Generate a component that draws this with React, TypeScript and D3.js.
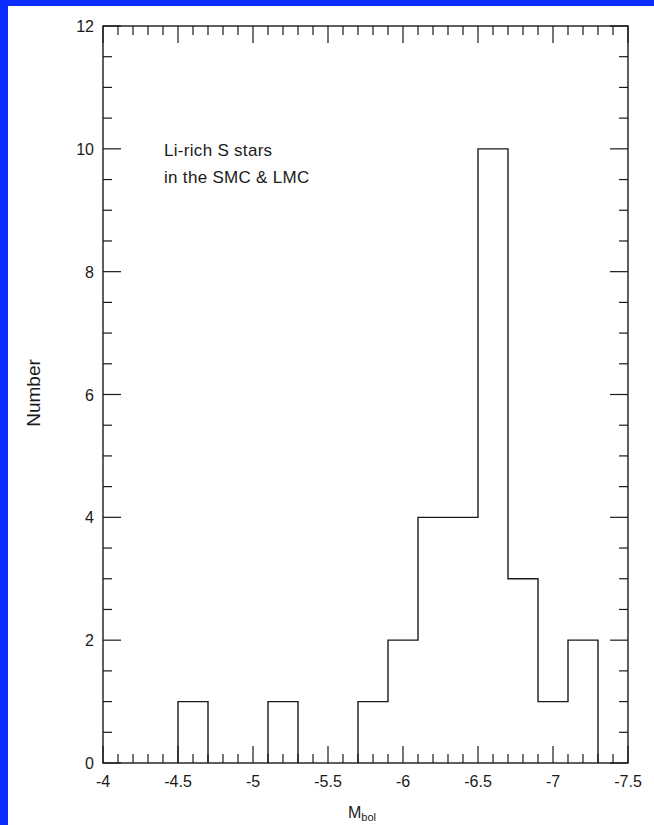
import React from "react";
import * as d3 from "d3";

// Histogram of Mbol for Li-rich S stars (bin width 0.2, edges starting at -4.5)
const binStarts = [-4.5, -4.7, -4.9, -5.1, -5.3, -5.5, -5.7, -5.9, -6.1, -6.3, -6.5, -6.7, -6.9, -7.1];
const counts = [1, 0, 0, 1, 0, 0, 1, 2, 4, 4, 10, 3, 1, 2];
const binWidth = 0.2;
const xTickLabels = [-4, -4.5, -5, -5.5, -6, -6.5, -7, -7.5];
const yTickLabels = [0, 2, 4, 6, 8, 10, 12];
const annotation = ["Li-rich S stars", "in the SMC & LMC"];

const W = 654;
const H = 825;
const FONT = "'Liberation Sans', Arial, Helvetica, sans-serif";
const INK = "#1a1a1a";

export default function App() {
  const left = 103, right = 628, top = 26, bottom = 763;
  const x = d3.scaleLinear().domain([-4, -7.5]).range([left, right]);
  const y = d3.scaleLinear().domain([0, 12]).range([bottom, top]);

  // build outline segments: contiguous runs of non-zero bins
  const runs: { s: number; c: number }[][] = [];
  let cur: { s: number; c: number }[] = [];
  binStarts.forEach((s, i) => {
    if (counts[i] > 0) cur.push({ s, c: counts[i] });
    else if (cur.length) { runs.push(cur); cur = []; }
  });
  if (cur.length) runs.push(cur);

  const paths = runs.map((run) => {
    const pts: [number, number][] = [];
    pts.push([x(run[0].s), y(0)]);
    run.forEach((b) => {
      pts.push([x(b.s), y(b.c)]);
      pts.push([x(b.s - binWidth), y(b.c)]);
    });
    pts.push([x(run[run.length - 1].s - binWidth), y(0)]);
    return d3.line()(pts) as string;
  });

  const xMinor = d3.range(0, 36).map((i) => -4 - i * 0.1);
  const yMinor = d3.range(0, 25).map((i) => i * 0.5);
  const isXMajor = (v: number) => Math.abs(Math.round(v * 2) - v * 2) < 1e-6;
  const isYMajor = (v: number) => Math.abs(v % 2) < 1e-6;

  return (
    <svg width={W} height={H} style={{ position: "absolute", left: 0, top: 0 }} xmlns="http://www.w3.org/2000/svg">
      <rect x={0} y={0} width={W} height={H} fill="#0a2cff" />
      <rect x={8} y={6} width={W - 8} height={H - 6} fill="#ffffff" />

      {/* frame */}
      <rect x={left} y={top} width={right - left} height={bottom - top} fill="none" stroke={INK} strokeWidth={1.4} />

      {/* x ticks bottom and top */}
      {xMinor.map((v, i) => {
        const len = isXMajor(v) ? 17 : 9;
        const xx = x(v);
        return (
          <g key={"xt" + i} stroke={INK} strokeWidth={1.2}>
            <line x1={xx} x2={xx} y1={bottom} y2={bottom - len} />
            <line x1={xx} x2={xx} y1={top} y2={top + len} />
          </g>
        );
      })}

      {/* y ticks left and right */}
      {yMinor.map((v, i) => {
        const len = isYMajor(v) ? 18 : 9;
        const yy = y(v);
        return (
          <g key={"yt" + i} stroke={INK} strokeWidth={1.2}>
            <line x1={left} x2={left + len} y1={yy} y2={yy} />
            <line x1={right} x2={right - len} y1={yy} y2={yy} />
          </g>
        );
      })}

      {/* histogram */}
      {paths.map((d, i) => (
        <path key={"h" + i} d={d} fill="none" stroke={INK} strokeWidth={1.4} />
      ))}

      {/* tick labels */}
      {xTickLabels.map((v) => (
        <text key={"xl" + v} x={x(v)} y={787} textAnchor="middle" fontFamily={FONT} fontSize={16} fill={INK}>
          {String(v)}
        </text>
      ))}
      {yTickLabels.map((v) => (
        <text key={"yl" + v} x={94} y={y(v) + 6} textAnchor="end" fontFamily={FONT} fontSize={16} fill={INK}>
          {String(v)}
        </text>
      ))}

      {/* axis titles */}
      <text x={40} y={393} transform="rotate(-90 40 393)" textAnchor="middle" fontFamily={FONT} fontSize={19} fill={INK}>
        Number
      </text>
      <text x={362} y={818} textAnchor="middle" fontFamily={FONT} fontSize={16} fill={INK}>
        M<tspan fontSize={11} dy={3}>bol</tspan>
      </text>

      {/* annotation */}
      {annotation.map((t, i) => (
        <text key={"a" + i} x={164} y={156 + i * 27} fontFamily={FONT} fontSize={17} letterSpacing={0.3} fill={INK}>
          {t}
        </text>
      ))}
    </svg>
  );
}
